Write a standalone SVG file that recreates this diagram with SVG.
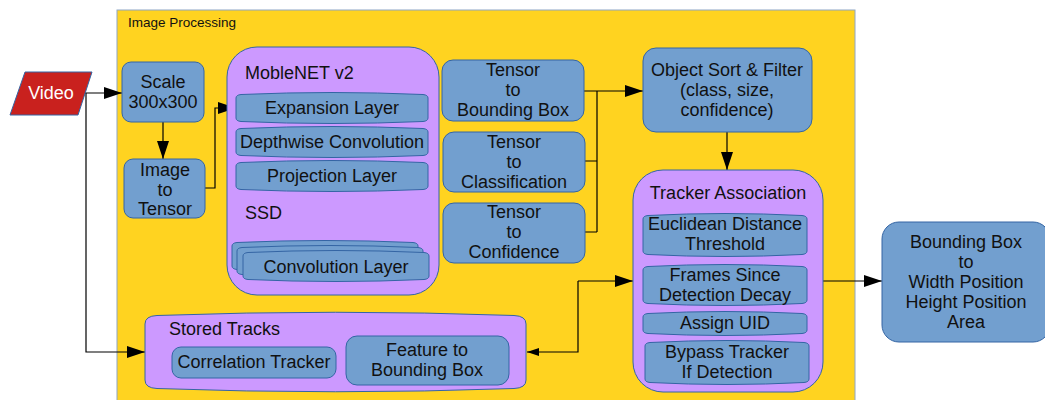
<svg xmlns="http://www.w3.org/2000/svg" width="1045" height="400" viewBox="0 0 1045 400">
  <defs>
    <style>
      .frame { fill: #ffd320; stroke: #8ea6c6; stroke-width: 1; }
      .blue { fill: #729fcf; stroke: #3465a4; stroke-width: 1; }
      .purple { fill: #cc99ff; stroke: #3465a4; stroke-width: 1; }
      .red { fill: #c9211e; stroke: #3465a4; stroke-width: 1; }
      .t { font-family: "Liberation Sans", Arial, sans-serif; font-size: 18px; fill: #111; }
      .c { text-anchor: middle; }
      .small { font-size: 13.5px; }
      .white { fill: #fff; }
      .wire { fill: none; stroke: #000; stroke-width: 1.2; }
    </style>
    <marker id="arrow" markerUnits="userSpaceOnUse" markerWidth="18" markerHeight="12" refX="18" refY="6" orient="auto">
      <path d="M0,0 L18,6 L0,12 Z" fill="#000"/>
    </marker>
    <marker id="arrow-small" markerUnits="userSpaceOnUse" markerWidth="12" markerHeight="8" refX="12" refY="4" orient="auto">
      <path d="M0,0 L12,4 L0,8 Z" fill="#000"/>
    </marker>
  </defs>

  <!-- Image processing frame -->
  <g id="image-processing">
    <rect class="frame" x="117" y="10" width="738" height="400"/>
    <text class="t small" x="128" y="27">Image Processing</text>
  </g>

  <!-- Connectors -->
  <g id="connectors">
    <path class="wire" d="M85,93 H122" marker-end="url(#arrow)"/>
    <path class="wire" d="M86,93 V352 H145" marker-end="url(#arrow)"/>
    <path class="wire" d="M163,122 V159" marker-end="url(#arrow)"/>
    <path class="wire" d="M205,188 H215 V108 H236" marker-end="url(#arrow)"/>
    <path class="wire" d="M584,91 H643" marker-end="url(#arrow)"/>
    <path class="wire" d="M585,161 H597 M585,232 H597 M597,91 V232"/>
    <path class="wire" d="M727,132 V170" marker-end="url(#arrow)"/>
    <path class="wire" d="M823,281 H882" marker-end="url(#arrow)"/>
    <path class="wire" d="M578,281 H633" marker-end="url(#arrow)"/>
    <path class="wire" d="M578,281 V352 H527" marker-end="url(#arrow-small)"/>
  </g>

  <!-- Video source -->
  <g id="video">
    <polygon class="red" points="25,72 92,72 78,115 10,115"/>
    <text class="t c white" x="51" y="99">Video</text>
  </g>

  <g id="scale">
    <rect class="blue" x="122" y="62" width="82" height="60" rx="9"/>
    <text class="t c" x="163" y="88">Scale</text>
    <text class="t c" x="163" y="108">300x300</text>
  </g>

  <g id="image-to-tensor">
    <rect class="blue" x="124" y="159" width="81" height="59" rx="9"/>
    <text class="t c" x="165" y="176">Image</text>
    <text class="t c" x="165" y="196">to</text>
    <text class="t c" x="165" y="215">Tensor</text>
  </g>

  <!-- MobileNET v2 + SSD -->
  <g id="moblenet">
    <rect class="purple" x="227" y="47" width="212" height="248" rx="30"/>
    <text class="t" x="245" y="79">MobleNET v2</text>
    <path class="blue" d="M236,98 Q236,95 241,94.5 Q332,90.5 423,94.5 Q428,95 428,98 V118 Q428,121 423,121.5 Q332,125.5 241,121.5 Q236,121 236,118 Z"/>
    <text class="t c" x="332" y="114">Expansion Layer</text>
    <path class="blue" d="M236,132 Q236,129 241,128.5 Q332,124.5 423,128.5 Q428,129 428,132 V152 Q428,155 423,155.5 Q332,159.5 241,155.5 Q236,155 236,152 Z"/>
    <text class="t c" x="332" y="148">Depthwise Convolution</text>
    <path class="blue" d="M236,166 Q236,163 241,162.5 Q332,158.5 423,162.5 Q428,163 428,166 V186 Q428,189 423,189.5 Q332,193.5 241,189.5 Q236,189 236,186 Z"/>
    <text class="t c" x="332" y="182">Projection Layer</text>
    <text class="t" x="245" y="219">SSD</text>
    <path class="blue" d="M232,246 Q232,243 237,242.5 Q325,238.5 413,242.5 Q418,243 418,246 V266 Q418,269 413,269.5 Q325,273.5 237,269.5 Q232,269 232,266 Z"/>
    <path class="blue" d="M237,251 Q237,248 242,247.5 Q330,243.5 418,247.5 Q423,248 423,251 V271 Q423,274 418,274.5 Q330,278.5 242,274.5 Q237,274 237,271 Z"/>
    <path class="blue" d="M243,256 Q243,253 248,252.5 Q336,248.5 424,252.5 Q429,253 429,256 V276 Q429,279 424,279.5 Q336,283.5 248,279.5 Q243,279 243,276 Z"/>
    <text class="t c" x="336" y="273">Convolution Layer</text>
  </g>

  <g id="tensor-bbox">
    <rect class="blue" x="442" y="60" width="142" height="61" rx="11"/>
    <text class="t c" x="513" y="76">Tensor</text>
    <text class="t c" x="513" y="96">to</text>
    <text class="t c" x="513" y="116">Bounding Box</text>
  </g>

  <g id="tensor-class">
    <rect class="blue" x="443" y="132" width="142" height="60" rx="11"/>
    <text class="t c" x="514" y="148">Tensor</text>
    <text class="t c" x="514" y="168">to</text>
    <text class="t c" x="514" y="188">Classification</text>
  </g>

  <g id="tensor-conf">
    <rect class="blue" x="443" y="203" width="142" height="60" rx="11"/>
    <text class="t c" x="514" y="218">Tensor</text>
    <text class="t c" x="514" y="238">to</text>
    <text class="t c" x="514" y="258">Confidence</text>
  </g>

  <g id="sort-filter">
    <rect class="blue" x="643" y="48" width="169" height="84" rx="13"/>
    <text class="t c" x="727" y="76">Object Sort &amp; Filter</text>
    <text class="t c" x="727" y="96">(class, size,</text>
    <text class="t c" x="727" y="116">confidence)</text>
  </g>

  <!-- Tracker association -->
  <g id="tracker-association">
    <rect class="purple" x="633" y="170" width="190" height="222" rx="30"/>
    <text class="t c" x="728" y="199">Tracker Association</text>
    <path class="blue" d="M643,219 Q643,216 648,215.5 Q725,211.5 802,215.5 Q807,216 807,219 V251 Q807,254 802,254.5 Q725,258.5 648,254.5 Q643,254 643,251 Z"/>
    <text class="t c" x="725" y="230">Euclidean Distance</text>
    <text class="t c" x="725" y="250">Threshold</text>
    <path class="blue" d="M643,270 Q643,267 648,266.5 Q725,262.5 802,266.5 Q807,267 807,270 V300 Q807,303 802,303.5 Q725,307.5 648,303.5 Q643,303 643,300 Z"/>
    <text class="t c" x="725" y="281">Frames Since</text>
    <text class="t c" x="725" y="301">Detection Decay</text>
    <path class="blue" d="M643,317 Q643,314 648,313.5 Q725,309.5 802,313.5 Q807,314 807,317 V330 Q807,333 802,333.5 Q725,337.5 648,333.5 Q643,333 643,330 Z"/>
    <text class="t c" x="725" y="329">Assign UID</text>
    <path class="blue" d="M645,346 Q645,343 650,342.5 Q727,338.5 804,342.5 Q809,343 809,346 V379 Q809,382 804,382.5 Q727,386.5 650,382.5 Q645,382 645,379 Z"/>
    <text class="t c" x="727" y="358">Bypass Tracker</text>
    <text class="t c" x="727" y="378">If Detection</text>
  </g>

  <!-- Stored tracks -->
  <g id="stored-tracks">
    <path class="purple" d="M145,324 Q145,316 157,315.5 Q335.5,309 514,315.5 Q526,316 526,324 V380 Q526,388 514,388.5 Q335.5,395 157,388.5 Q145,388 145,380 Z"/>
    <text class="t" x="169" y="335">Stored Tracks</text>
    <rect class="blue" x="172" y="347" width="164" height="31" rx="9"/>
    <text class="t c" x="254" y="368">Correlation Tracker</text>
    <rect class="blue" x="346" y="336" width="163" height="49" rx="11"/>
    <text class="t c" x="427" y="356">Feature to</text>
    <text class="t c" x="427" y="376">Bounding Box</text>
  </g>

  <!-- Output -->
  <g id="bbox-output">
    <rect class="blue" x="882" y="222" width="168" height="120" rx="17"/>
    <text class="t c" x="966" y="248">Bounding Box</text>
    <text class="t c" x="966" y="268">to</text>
    <text class="t c" x="966" y="288">Width Position</text>
    <text class="t c" x="966" y="308">Height Position</text>
    <text class="t c" x="966" y="328">Area</text>
  </g>
</svg>
